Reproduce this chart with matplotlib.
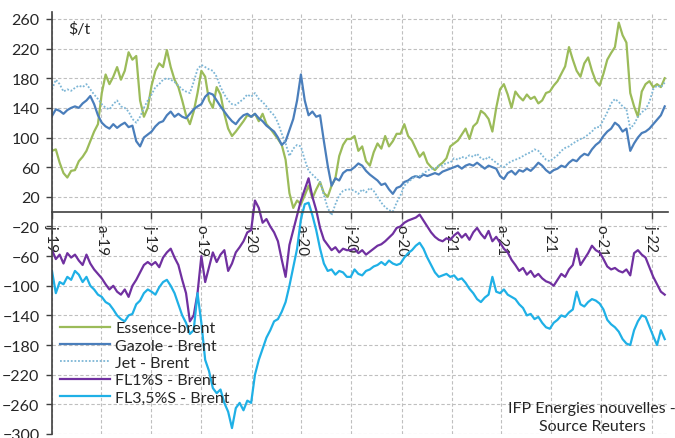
import pandas as pd
import matplotlib.pyplot as plt
import matplotlib.dates as mdates

plt.rcParams['font.family'] = ['Lato', 'DejaVu Sans']

# Weekly spreads against Brent, in $/t (one value per week, starting January 2019)
essence = [82, 84, 66, 52, 46, 55, 56, 68, 74, 82, 95, 108, 118,
           160, 185, 172, 182, 195, 178, 190, 215, 205, 210, 150, 128, 140,
           170, 190, 200, 195, 218, 195, 178, 168, 150, 130, 118, 135, 160,
           190, 182, 150, 140, 168, 158, 132, 112, 102, 108, 115, 122, 130,
           128, 132, 122, 132, 118, 112, 105, 98, 90, 70, 25, 5, 15,
           10, 22, 35, 18, 30, 40, 25, 20, 35, 45, 75, 90, 98,
           98, 102, 82, 88, 68, 62, 80, 92, 85, 102, 88, 95, 105,
           105, 118, 102, 96, 85, 74, 80, 66, 60, 56, 62, 66, 72,
           88, 92, 96, 104, 112, 98, 115, 120, 136, 132, 125, 108, 140,
           165, 172, 158, 140, 162, 155, 150, 158, 152, 155, 146, 150, 160,
           162, 170, 176, 186, 196, 222, 205, 190, 182, 200, 208, 190, 176,
           170, 186, 205, 214, 222, 255, 238, 228, 160, 142, 128, 162, 172,
           176, 168, 172, 168, 180]

gazole = [129, 138, 136, 132, 137, 140, 142, 140, 146, 150, 156, 145, 130,
          120, 115, 112, 118, 113, 117, 120, 114, 116, 95, 88, 100, 104,
          108, 115, 120, 122, 130, 135, 128, 132, 128, 126, 132, 138, 142,
          145, 155, 160, 158, 150, 142, 135, 128, 122, 118, 125, 130, 132,
          128, 132, 126, 122, 116, 112, 108, 100, 90, 95, 110, 125, 150,
          185, 150, 130, 135, 128, 130, 95, 62, 35, 45, 42, 52, 56,
          56, 60, 65, 62, 55, 50, 46, 42, 36, 38, 30, 24, 32,
          34, 40, 42, 46, 48, 46, 50, 48, 50, 52, 50, 54, 56,
          58, 60, 62, 58, 62, 64, 62, 66, 62, 58, 62, 60, 58,
          48, 44, 52, 55, 50, 56, 54, 58, 55, 60, 66, 62, 56,
          52, 56, 58, 62, 60, 66, 70, 68, 74, 78, 76, 84, 90,
          94, 102, 108, 112, 120, 116, 108, 112, 82, 92, 100, 106, 108,
          112, 118, 124, 130, 142]

jet = [165, 178, 172, 162, 165, 163, 167, 170, 168, 172, 165, 158, 152,
       145, 140, 138, 145, 150, 142, 140, 135, 125, 120, 128, 140, 150,
       158, 168, 172, 178, 180, 178, 175, 170, 165, 162, 160, 175, 192,
       198, 195, 192, 190, 182, 168, 158, 150, 145, 144, 148, 152, 158,
       155, 160, 152, 148, 142, 135, 130, 120, 105, 92, 75, 85, 90,
       88, 70, 55, 50, 45, 40, 22, 5, -5, 10, 22, 28, 30,
       30, 28, 24, 30, 26, 32, 28, 20, 12, 6, 2, 0, 12,
       22, 35, 40, 44, 48, 48, 52, 55, 58, 58, 62, 62, 66,
       66, 72, 70, 74, 72, 76, 74, 78, 72, 70, 74, 70, 66,
       62, 60, 65, 68, 70, 72, 75, 78, 80, 84, 82, 76, 70,
       68, 72, 76, 82, 86, 88, 92, 95, 98, 100, 104, 108, 114,
       114, 124, 134, 146, 152, 148, 142, 138, 112, 118, 128, 134, 138,
       148, 165, 170, 168, 174]

fl1 = [-52, -64, -58, -70, -56, -62, -58, -66, -72, -58, -70, -78, -84,
       -90, -98, -105, -100, -108, -112, -105, -115, -100, -92, -82, -72, -68,
       -72, -68, -75, -62, -55, -50, -62, -72, -92, -110, -148, -140, -110,
       -60, -95, -75, -55, -68, -58, -52, -80, -70, -55, -48, -40, -28,
       -25, 15, 5, -15, -10, -20, -28, -40, -65, -88, -45, -25, -5,
       15, 30, 45, 20, 2, -22, -38, -45, -52, -48, -55, -50, -52,
       -52, -50, -56, -52, -58, -54, -50, -46, -44, -40, -35, -30, -22,
       -20, -15, -12, -10, -8, -4, -12, -20, -28, -34, -38, -40, -36,
       -38, -32, -28, -35, -30, -38, -28, -22, -30, -36, -26, -40, -34,
       -42, -50, -55, -65, -72, -80, -76, -85, -80, -88, -84, -90, -94,
       -96, -100, -92, -84, -88, -78, -72, -50, -72, -64, -56, -46, -52,
       -55, -64, -74, -78, -76, -80, -82, -78, -86, -56, -52, -58, -62,
       -75, -88, -98, -108, -112]

fl35 = [-80, -110, -95, -98, -88, -92, -80, -85, -95, -88, -100, -105, -112,
        -115, -122, -125, -132, -140, -145, -148, -140, -138, -125, -120, -110, -105,
        -108, -112, -102, -95, -92, -100, -110, -125, -140, -150, -165, -160, -110,
        -150, -200, -215, -238, -245, -240, -258, -270, -292, -265, -258, -268, -255,
        -258, -220, -200, -185, -170, -160, -148, -145, -135, -122, -100, -75, -50,
        -10, 10, 12, -5, -25, -50, -70, -80, -78, -85, -80, -82, -88,
        -88, -78, -84, -86, -80, -78, -74, -72, -68, -72, -66, -70, -72,
        -70, -62, -56, -52, -46, -42, -50, -62, -72, -82, -88, -86, -84,
        -88, -86, -92, -90, -96, -104, -110, -118, -122, -116, -112, -88, -108,
        -110, -105, -112, -115, -118, -125, -130, -140, -138, -145, -142, -150, -156,
        -158, -150, -146, -140, -142, -136, -132, -108, -125, -128, -122, -118, -120,
        -124, -132, -146, -152, -156, -162, -172, -178, -180, -160, -148, -140, -142,
        -155, -168, -180, -160, -172]

series_names = ['Essence-brent', 'Gazole - Brent', 'Jet - Brent', 'FL1%S - Brent', 'FL3,5%S - Brent']
tick_labels = ['j-19', 'a-19', 'j-19', 'o-19', 'j-20', 'a-20', 'j-20', 'o-20',
               'j-21', 'a-21', 'j-21', 'o-21', 'j-22']
y_ticks = list(range(-300, 261, 40))

dates = pd.date_range('2019-01-01', periods=len(essence), freq='7D')
tick_dates = pd.date_range('2019-01-01', periods=len(tick_labels), freq='QS')

fig = plt.figure(figsize=(6.75, 4.39), dpi=100)
ax = fig.add_axes([52 / 675, 4 / 439, 616 / 675, 422.5 / 439])

# line styles for the five spreads
ax.plot(dates, essence, color='#9BBB59', lw=1.6, label=series_names[0])
ax.plot(dates, gazole, color='#4A7EBB', lw=1.6, label=series_names[1])
ax.plot(dates, jet, color='#7DB6D6', lw=1.3, ls=(0, (1, 1)), label=series_names[2])
ax.plot(dates, fl1, color='#7030A0', lw=1.6, label=series_names[3])
ax.plot(dates, fl35, color='#1FB0E6', lw=1.6, label=series_names[4])

ax.set_xlim(pd.Timestamp('2019-01-01'), pd.Timestamp('2022-01-31'))
ax.set_ylim(-300, 270)

ax.set_yticks(y_ticks)
ax.set_xticks(tick_dates)
ax.set_xticklabels(tick_labels)

# x axis sits on the zero line
ax.spines['bottom'].set_position(('data', 0))
ax.spines['top'].set_visible(False)
ax.spines['right'].set_visible(False)
for side in ['bottom', 'left']:
    ax.spines[side].set_color('#404040')
    ax.spines[side].set_linewidth(1.2)

ax.tick_params(axis='y', direction='out', length=4, width=1, color='#404040',
               labelsize=11.5, labelcolor='#262626', pad=5)
ax.tick_params(axis='x', direction='out', length=5, width=1, color='#404040',
               labelsize=11, labelcolor='#262626', pad=4, labelrotation=270)
for lbl in ax.get_xticklabels():
    lbl.set_rotation(270)
    lbl.set_ha('center')
    lbl.set_va('top')

ax.grid(True, color='#BFBFBF', ls=(0, (3, 2)), lw=0.8)
ax.set_axisbelow(True)

fig.text(68 / 675, 1 - 22 / 439, '\\$/t', fontsize=11.5, color='#262626', va='top')

leg = ax.legend(loc='upper left', bbox_to_anchor=(60 / 675, 1 - 322 / 439),
                bbox_transform=fig.transFigure, frameon=False, fontsize=11.5,
                handlelength=3.1, handletextpad=0.35, labelspacing=0.2,
                borderpad=0, borderaxespad=0)
for t in leg.get_texts():
    t.set_color('#262626')

fig.text(592 / 675, 1 - 418 / 439, 'IFP Energies nouvelles -\nSource Reuters',
         ha='center', va='center', fontsize=11.5, color='#262626', linespacing=1.35)

plt.savefig('out.png', dpi=100)
